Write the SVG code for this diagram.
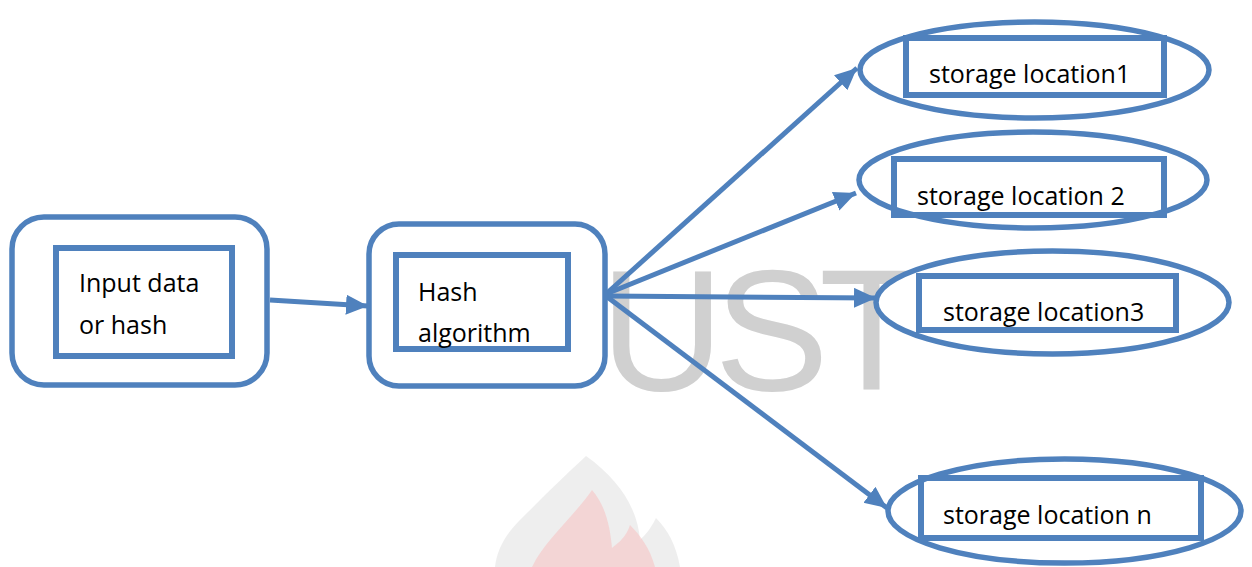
<svg xmlns="http://www.w3.org/2000/svg" width="1252" height="567" viewBox="0 0 1252 567">
<style>
.shape{fill:#ffffff;stroke:#4f81bd;stroke-width:5.5}
.inner{fill:none;stroke:#4f81bd;stroke-width:6}
.lbl{font-family:"Open Sans","Liberation Sans",sans-serif;font-size:25px;fill:#000000}
.conn{stroke:#4f81bd;stroke-width:5;fill:none}
.wm{font-family:"Liberation Sans",Arial,sans-serif;font-size:172px;fill:#d0d0d0;letter-spacing:-10px}
</style>
<defs>
<marker id="ah" markerUnits="userSpaceOnUse" markerWidth="24" markerHeight="22" refX="22" refY="10" orient="auto">
<path d="M0,0 L22,10 L0,20 Z" fill="#4f81bd"/>
</marker>
</defs>
<rect width="1252" height="567" fill="#ffffff"/>
<g id="watermark">
<text class="wm" x="600" y="390">UST</text>
<path d="M586,456 C560,480 540,500 520,520 C505,535 497,550 495,567 L680,567 C676,545 668,530 656,518 C650,530 645,535 640,540 C638,510 620,480 586,456 Z" fill="#e2e2e2" opacity="0.6"/>
<path d="M592,490 C575,515 545,540 532,567 L655,567 C650,548 640,535 630,525 C625,540 615,545 612,548 C610,525 605,505 592,490 Z" fill="#f6c4c4" opacity="0.6"/>
</g>
<g id="connectors">
<line class="conn" x1="270" y1="300" x2="368" y2="306" marker-end="url(#ah)"/>
<line class="conn" x1="606" y1="294" x2="857" y2="68" marker-end="url(#ah)"/>
<line class="conn" x1="606" y1="294" x2="856" y2="193" marker-end="url(#ah)"/>
<line class="conn" x1="606" y1="296" x2="876" y2="298" marker-end="url(#ah)"/>
<line class="conn" x1="606" y1="296" x2="887" y2="508" marker-end="url(#ah)"/>
</g>
<g id="node-input">
<rect class="shape" x="12" y="217" width="255" height="168" rx="32" ry="32"/>
<rect class="inner" x="56" y="248" width="176" height="108"/>
<text class="lbl" x="79" y="292">Input data</text>
<text class="lbl" x="79" y="334">or hash</text>
</g>
<g id="node-hash">
<rect class="shape" x="369" y="224" width="236" height="162" rx="30" ry="30"/>
<rect class="inner" x="396" y="255" width="172" height="94"/>
<text class="lbl" x="418" y="301">Hash</text>
<text class="lbl" x="418" y="342">algorithm</text>
</g>
<g id="node-loc1">
<ellipse class="shape" cx="1034.5" cy="70" rx="174.5" ry="48"/>
<rect class="inner" x="906" y="38" width="258" height="57"/>
<text class="lbl" x="929" y="83">storage location1</text>
</g>
<g id="node-loc2">
<ellipse class="shape" cx="1033" cy="180" rx="174" ry="48"/>
<rect class="inner" x="894" y="159" width="270" height="56"/>
<text class="lbl" x="917" y="205">storage location 2</text>
</g>
<g id="node-loc3">
<ellipse class="shape" cx="1052.5" cy="302.5" rx="176.5" ry="51.5"/>
<rect class="inner" x="919" y="276" width="257" height="54"/>
<text class="lbl" x="943" y="321">storage location3</text>
</g>
<g id="node-locn">
<ellipse class="shape" cx="1064.5" cy="511" rx="176.5" ry="52"/>
<rect class="inner" x="921" y="478" width="280" height="60"/>
<text class="lbl" x="943" y="524">storage location n</text>
</g>
</svg>
